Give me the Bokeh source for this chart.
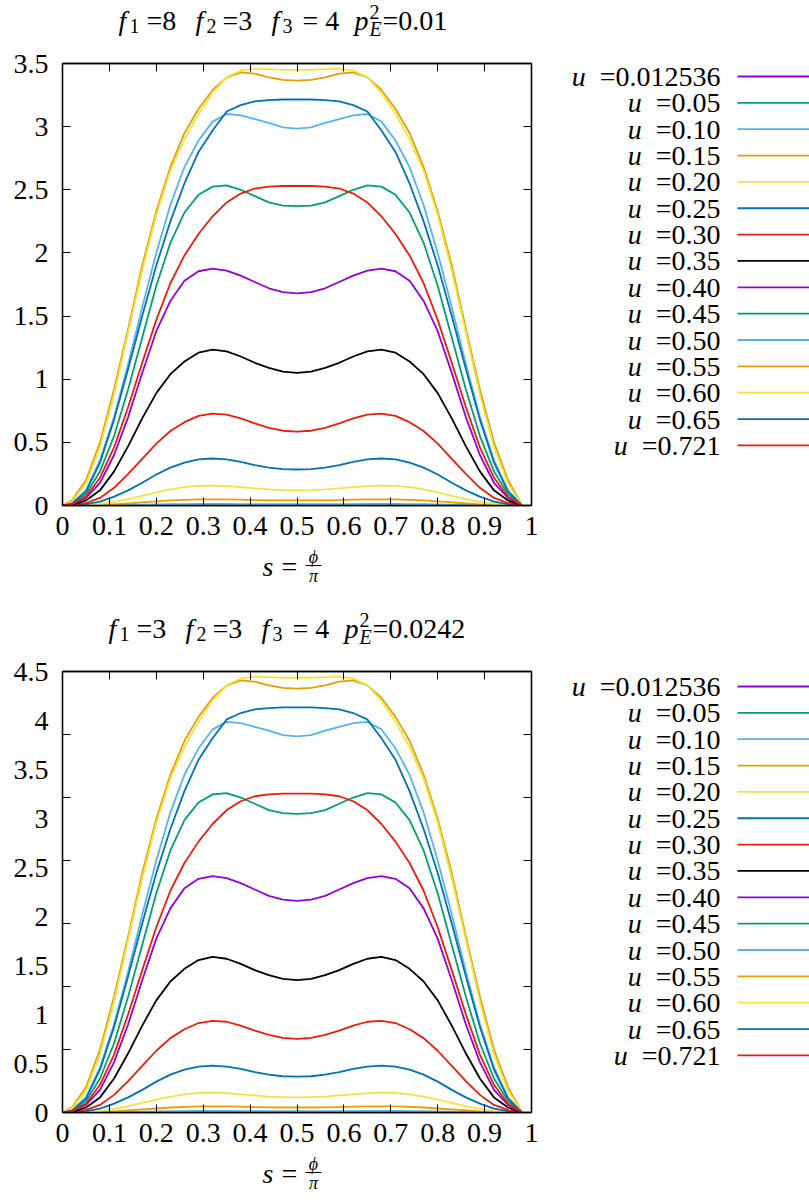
from bokeh.plotting import figure
from bokeh.layouts import gridplot
from bokeh.models import (Range1d, FixedTicker, PrintfTickFormatter, LinearAxis,
                          CustomJSTickFormatter)
from bokeh.core.properties import value
from bokeh.embed import file_html
from bokeh.resources import INLINE

# ---------------- data ----------------
S = [0.0, 0.02, 0.05, 0.08, 0.11, 0.14, 0.17, 0.20, 0.23, 0.26, 0.29, 0.32, 0.35, 0.38,
     0.41, 0.44, 0.47, 0.50, 0.53, 0.56, 0.59, 0.62, 0.65, 0.68, 0.71, 0.74, 0.77, 0.80,
     0.83, 0.86, 0.89, 0.92, 0.95, 0.98]

U_LABELS = ["0.012536", "0.05", "0.10", "0.15", "0.20", "0.25", "0.30", "0.35",
            "0.40", "0.45", "0.50", "0.55", "0.60", "0.65", "0.721"]

X_TICKS = [0, 0.1, 0.2, 0.3, 0.4, 0.5, 0.6, 0.7, 0.8, 0.9, 1]
Y_TICKS_TOP = [0, 0.5, 1, 1.5, 2, 2.5, 3, 3.5]
Y_LABELS_BOT = [0, 0.5, 1, 1.5, 2, 2.5, 3, 3.5, 4, 4.5]
Y_MARKS_BOT = [0.643, 1.286, 1.929, 2.571, 3.214, 3.857]

# top panel  (f1=8, pE^2=0.01)
TOP_U0125 = [0, 0, 0.0001, 0.0003, 0.0006, 0.0009, 0.0012, 0.0015, 0.0017, 0.0019, 0.002, 0.002, 0.002, 0.0019, 0.0018, 0.0017, 0.0017, 0.0017,
             0.0017, 0.0017, 0.0018, 0.0019, 0.002, 0.002, 0.002, 0.0019, 0.0017, 0.0015, 0.0012, 0.0009, 0.0006, 0.0003, 0.0001, 0]
TOP_U05 = [0, 0, 0.0002, 0.0005, 0.001, 0.0017, 0.0024, 0.003, 0.0036, 0.004, 0.0042, 0.0043, 0.0042, 0.004, 0.0038, 0.0036, 0.0035, 0.0035,
           0.0035, 0.0036, 0.0038, 0.004, 0.0042, 0.0043, 0.0042, 0.004, 0.0036, 0.003, 0.0024, 0.0017, 0.001, 0.0005, 0.0002, 0]
TOP_U10 = [0, 0, 0.0005, 0.0012, 0.0025, 0.004, 0.006, 0.008, 0.0098, 0.011, 0.0118, 0.012, 0.0118, 0.0113, 0.0107, 0.0102, 0.0099, 0.0098,
           0.0099, 0.0102, 0.0107, 0.0113, 0.0118, 0.012, 0.0118, 0.011, 0.0098, 0.008, 0.006, 0.004, 0.0025, 0.0012, 0.0005, 0]
TOP_U15 = [0, 0, 0.001, 0.004, 0.009, 0.016, 0.024, 0.032, 0.04, 0.045, 0.048, 0.049, 0.048, 0.046, 0.043, 0.041, 0.04, 0.04,
           0.04, 0.041, 0.043, 0.046, 0.048, 0.049, 0.048, 0.045, 0.04, 0.032, 0.024, 0.016, 0.009, 0.004, 0.001, 0]
TOP_U20 = [0, 0.0005, 0.004, 0.012, 0.028, 0.05, 0.077, 0.103, 0.127, 0.145, 0.156, 0.158, 0.154, 0.145, 0.135, 0.127, 0.122, 0.12,
           0.122, 0.127, 0.135, 0.145, 0.154, 0.158, 0.156, 0.145, 0.127, 0.103, 0.077, 0.05, 0.028, 0.012, 0.004, 0]
TOP_U25 = [0, 0.001, 0.01, 0.03, 0.07, 0.12, 0.18, 0.245, 0.30, 0.34, 0.365, 0.372, 0.365, 0.345, 0.32, 0.30, 0.288, 0.285,
           0.288, 0.30, 0.32, 0.345, 0.365, 0.372, 0.365, 0.34, 0.30, 0.245, 0.18, 0.12, 0.07, 0.03, 0.01, 0]
TOP_U30 = [0, 0.003, 0.02, 0.06, 0.14, 0.25, 0.37, 0.49, 0.59, 0.66, 0.71, 0.727, 0.72, 0.69, 0.65, 0.615, 0.592, 0.585,
           0.592, 0.615, 0.65, 0.69, 0.72, 0.727, 0.71, 0.66, 0.59, 0.49, 0.37, 0.25, 0.14, 0.06, 0.02, 0]
TOP_U35 = [0, 0.005, 0.04, 0.12, 0.27, 0.47, 0.69, 0.89, 1.04, 1.14, 1.21, 1.235, 1.22, 1.18, 1.13, 1.09, 1.06, 1.05,
           1.06, 1.09, 1.13, 1.18, 1.22, 1.235, 1.21, 1.14, 1.04, 0.89, 0.69, 0.47, 0.27, 0.12, 0.04, 0]
TOP_U40 = [0, 0.01, 0.06, 0.18, 0.40, 0.70, 1.05, 1.38, 1.62, 1.78, 1.855, 1.875, 1.86, 1.82, 1.77, 1.72, 1.69, 1.68,
           1.69, 1.72, 1.77, 1.82, 1.86, 1.875, 1.855, 1.78, 1.62, 1.38, 1.05, 0.70, 0.40, 0.18, 0.06, 0]
TOP_U45 = [0, 0.01, 0.09, 0.27, 0.55, 0.92, 1.33, 1.74, 2.08, 2.32, 2.46, 2.525, 2.535, 2.50, 2.45, 2.40, 2.375, 2.37,
           2.375, 2.40, 2.45, 2.50, 2.535, 2.525, 2.46, 2.32, 2.08, 1.74, 1.33, 0.92, 0.55, 0.27, 0.09, 0]
TOP_U50 = [0, 0.02, 0.12, 0.36, 0.70, 1.12, 1.57, 2.00, 2.38, 2.68, 2.89, 3.04, 3.10, 3.09, 3.06, 3.03, 2.995, 2.985,
           2.995, 3.03, 3.06, 3.09, 3.10, 3.04, 2.89, 2.68, 2.38, 2.00, 1.57, 1.12, 0.70, 0.36, 0.12, 0]
TOP_U55 = [0, 0.04, 0.20, 0.50, 0.92, 1.40, 1.90, 2.33, 2.68, 2.95, 3.14, 3.29, 3.39, 3.43, 3.42, 3.39, 3.37, 3.365,
           3.37, 3.39, 3.42, 3.43, 3.39, 3.29, 3.14, 2.95, 2.68, 2.33, 1.90, 1.40, 0.92, 0.50, 0.20, 0]
TOP_U60 = [0, 0.03, 0.17, 0.46, 0.88, 1.37, 1.86, 2.30, 2.65, 2.90, 3.10, 3.27, 3.39, 3.445, 3.46, 3.455, 3.45, 3.45,
           3.45, 3.455, 3.46, 3.445, 3.39, 3.27, 3.10, 2.90, 2.65, 2.30, 1.86, 1.37, 0.88, 0.46, 0.17, 0]
TOP_U65 = [0, 0.015, 0.11, 0.34, 0.68, 1.08, 1.50, 1.90, 2.25, 2.55, 2.80, 2.97, 3.12, 3.17, 3.20, 3.21, 3.215, 3.215,
           3.215, 3.21, 3.20, 3.17, 3.12, 2.97, 2.80, 2.55, 2.25, 1.90, 1.50, 1.08, 0.68, 0.34, 0.11, 0]
TOP_U721 = [0, 0.01, 0.07, 0.22, 0.46, 0.78, 1.13, 1.47, 1.76, 1.98, 2.15, 2.29, 2.40, 2.47, 2.51, 2.525, 2.53, 2.53,
            2.53, 2.525, 2.51, 2.47, 2.40, 2.29, 2.15, 1.98, 1.76, 1.47, 1.13, 0.78, 0.46, 0.22, 0.07, 0]

# bottom panel  (f1=3, pE^2=0.0242)
BOT_U0125 = [0, 0, 0.0001, 0.0004, 0.0008, 0.0012, 0.0015, 0.0019, 0.0022, 0.0024, 0.0026, 0.0026, 0.0026, 0.0024, 0.0023, 0.0022, 0.0022, 0.0022,
             0.0022, 0.0022, 0.0023, 0.0024, 0.0026, 0.0026, 0.0026, 0.0024, 0.0022, 0.0019, 0.0015, 0.0012, 0.0008, 0.0004, 0.0001, 0]
BOT_U05 = [0, 0, 0.0003, 0.0006, 0.0013, 0.0022, 0.0031, 0.0039, 0.0046, 0.0051, 0.0054, 0.0055, 0.0054, 0.0051, 0.0049, 0.0046, 0.0045, 0.0045,
           0.0045, 0.0046, 0.0049, 0.0051, 0.0054, 0.0055, 0.0054, 0.0051, 0.0046, 0.0039, 0.0031, 0.0022, 0.0013, 0.0006, 0.0003, 0]
BOT_U10 = [0, 0, 0.0006, 0.0015, 0.0032, 0.0051, 0.0077, 0.0103, 0.0126, 0.0141, 0.0152, 0.0154, 0.0152, 0.0145, 0.0138, 0.0131, 0.0127, 0.0126,
           0.0127, 0.0131, 0.0138, 0.0145, 0.0152, 0.0154, 0.0152, 0.0141, 0.0126, 0.0103, 0.0077, 0.0051, 0.0032, 0.0015, 0.0006, 0]
BOT_U15 = [0, 0, 0.001, 0.005, 0.012, 0.021, 0.031, 0.041, 0.051, 0.058, 0.062, 0.063, 0.062, 0.059, 0.055, 0.053, 0.051, 0.051,
           0.051, 0.053, 0.055, 0.059, 0.062, 0.063, 0.062, 0.058, 0.051, 0.041, 0.031, 0.021, 0.012, 0.005, 0.001, 0]
BOT_U20 = [0, 0.001, 0.005, 0.015, 0.036, 0.064, 0.099, 0.132, 0.163, 0.186, 0.201, 0.203, 0.198, 0.186, 0.174, 0.163, 0.157, 0.154,
           0.157, 0.163, 0.174, 0.186, 0.198, 0.203, 0.201, 0.186, 0.163, 0.132, 0.099, 0.064, 0.036, 0.015, 0.005, 0]
BOT_U25 = [0, 0.001, 0.013, 0.039, 0.09, 0.154, 0.231, 0.315, 0.386, 0.437, 0.469, 0.478, 0.469, 0.444, 0.411, 0.386, 0.370, 0.366,
           0.370, 0.386, 0.411, 0.444, 0.469, 0.478, 0.469, 0.437, 0.386, 0.315, 0.231, 0.154, 0.09, 0.039, 0.013, 0]
BOT_U30 = [0, 0.004, 0.026, 0.077, 0.18, 0.321, 0.476, 0.63, 0.759, 0.849, 0.913, 0.935, 0.926, 0.887, 0.836, 0.791, 0.761, 0.752,
           0.761, 0.791, 0.836, 0.887, 0.926, 0.935, 0.913, 0.849, 0.759, 0.63, 0.476, 0.321, 0.18, 0.077, 0.026, 0]
BOT_U35 = [0, 0.006, 0.051, 0.154, 0.347, 0.604, 0.887, 1.144, 1.337, 1.466, 1.556, 1.588, 1.569, 1.517, 1.453, 1.401, 1.363, 1.35,
           1.363, 1.401, 1.453, 1.517, 1.569, 1.588, 1.556, 1.466, 1.337, 1.144, 0.887, 0.604, 0.347, 0.154, 0.051, 0]
BOT_U40 = [0, 0.013, 0.077, 0.231, 0.514, 0.90, 1.35, 1.774, 2.083, 2.289, 2.385, 2.411, 2.391, 2.34, 2.276, 2.211, 2.173, 2.16,
           2.173, 2.211, 2.276, 2.34, 2.391, 2.411, 2.385, 2.289, 2.083, 1.774, 1.35, 0.90, 0.514, 0.231, 0.077, 0]
BOT_U45 = [0, 0.013, 0.116, 0.347, 0.707, 1.183, 1.71, 2.237, 2.674, 2.983, 3.163, 3.246, 3.259, 3.214, 3.15, 3.086, 3.054, 3.047,
           3.054, 3.086, 3.15, 3.214, 3.259, 3.246, 3.163, 2.983, 2.674, 2.237, 1.71, 1.183, 0.707, 0.347, 0.116, 0]
BOT_U50 = [0, 0.026, 0.154, 0.463, 0.90, 1.44, 2.019, 2.571, 3.06, 3.446, 3.716, 3.909, 3.986, 3.973, 3.934, 3.896, 3.851, 3.838,
           3.851, 3.896, 3.934, 3.973, 3.986, 3.909, 3.716, 3.446, 3.06, 2.571, 2.019, 1.44, 0.90, 0.463, 0.154, 0]
BOT_U55 = [0, 0.051, 0.257, 0.643, 1.183, 1.80, 2.443, 2.996, 3.446, 3.793, 4.037, 4.23, 4.359, 4.41, 4.397, 4.359, 4.333, 4.326,
           4.333, 4.359, 4.397, 4.41, 4.359, 4.23, 4.037, 3.793, 3.446, 2.996, 2.443, 1.80, 1.183, 0.643, 0.257, 0]
BOT_U60 = [0, 0.039, 0.219, 0.591, 1.131, 1.761, 2.391, 2.957, 3.407, 3.729, 3.986, 4.204, 4.359, 4.429, 4.449, 4.442, 4.436, 4.436,
           4.436, 4.442, 4.449, 4.429, 4.359, 4.204, 3.986, 3.729, 3.407, 2.957, 2.391, 1.761, 1.131, 0.591, 0.219, 0]
BOT_U65 = [0, 0.019, 0.141, 0.437, 0.874, 1.389, 1.929, 2.443, 2.893, 3.279, 3.60, 3.819, 4.011, 4.076, 4.114, 4.127, 4.134, 4.134,
           4.134, 4.127, 4.114, 4.076, 4.011, 3.819, 3.60, 3.279, 2.893, 2.443, 1.929, 1.389, 0.874, 0.437, 0.141, 0]
BOT_U721 = [0, 0.013, 0.09, 0.283, 0.591, 1.003, 1.453, 1.89, 2.263, 2.546, 2.764, 2.944, 3.086, 3.176, 3.227, 3.246, 3.253, 3.253,
            3.253, 3.246, 3.227, 3.176, 3.086, 2.944, 2.764, 2.546, 2.263, 1.89, 1.453, 1.003, 0.591, 0.283, 0.09, 0]

TOP_SERIES = [TOP_U0125, TOP_U05, TOP_U10, TOP_U15, TOP_U20, TOP_U25, TOP_U30, TOP_U35,
              TOP_U40, TOP_U45, TOP_U50, TOP_U55, TOP_U60, TOP_U65, TOP_U721]
BOT_SERIES = [BOT_U0125, BOT_U05, BOT_U10, BOT_U15, BOT_U20, BOT_U25, BOT_U30, BOT_U35,
              BOT_U40, BOT_U45, BOT_U50, BOT_U55, BOT_U60, BOT_U65, BOT_U721]

TOP_TITLE_TEXT = ["f", "1", "=8", "f", "2", "=3", "f", "3", "= 4", "p", "2", "E", "=0.01"]
BOT_TITLE_TEXT = ["f", "1", "=3", "f", "2", "=3", "f", "3", "= 4", "p", "2", "E", "=0.0242"]

# ---------------- styling / layout ----------------
FONT = "Liberation Serif"
FS = "28px"
COLORS = ["#9400d3", "#009e73", "#56b4e9", "#e69f00", "#f0e442", "#0072b2", "#e51e10", "#000000"]
PAGE_W = 809
W_MAIN = 541
FRAME_L, FRAME_R = 62, 531
BELOW = 41          # space under the frame for the x tick labels
TITLE_STYLE = ["italic", "normal", "normal", "italic", "normal", "normal", "italic", "normal",
               "normal", "italic", "normal", "italic", "normal"]
TITLE_SIZE = [28, 20, 28, 28, 20, 28, 28, 20, 28, 28, 20, 20, 28]
TITLE_DX = [0, 11, 28, 77, 88, 104, 153, 164, 184, 236, 251, 251, 264]
TITLE_DY = [0, 5, 0, 0, 5, 0, 0, 5, 0, 0, -9, 8, 0]


def bare(width, height, x_range, y_range, left, right, top, bottom):
    f = figure(width=width, height=height, x_range=x_range, y_range=y_range, title=None,
               output_backend="svg", toolbar_location=None,
               x_axis_location=None, y_axis_location=None,
               min_border_left=left, min_border_right=right,
               min_border_top=top, min_border_bottom=bottom)
    f.grid.visible = False
    f.outline_line_color = None
    return f


def style_axis(ax, labels=True):
    ax.axis_line_color = "black"
    ax.axis_line_width = 1.3
    ax.major_tick_line_color = "black"
    ax.major_tick_line_width = 1
    ax.major_tick_in = 8
    ax.major_tick_out = 0
    ax.minor_tick_line_color = None
    ax.major_label_text_font = FONT
    ax.major_label_text_color = "black"
    if labels:
        ax.major_label_text_font_size = FS
    else:
        ax.major_label_text_font_size = "0px"
        ax.major_label_standoff = 0


def make_panel(series, ymax, label_ticks, mark_ticks, page_top, page_bot, frame_h,
               title_text, title_x0, legend_row0):
    t_bot = page_top + 48
    frame_top = page_top + 63
    frame_bot = frame_top + frame_h
    m_bot = frame_bot + BELOW

    # title strip (coordinates = page pixels, y = vertical centre of each piece)
    tf = bare(W_MAIN, t_bot - page_top, Range1d(FRAME_L, FRAME_R), Range1d(t_bot, page_top),
              FRAME_L, W_MAIN - FRAME_R, 0, 0)
    mid = page_top + 20
    tf.text(x=[title_x0 + d for d in TITLE_DX], y=[mid + d for d in TITLE_DY], text=title_text,
            text_font=value(FONT), text_font_size=[f"{s}px" for s in TITLE_SIZE],
            text_font_style=TITLE_STYLE, text_align="left", text_baseline="middle",
            text_color="black")

    # main plot
    p = figure(width=W_MAIN, height=m_bot - t_bot, x_range=Range1d(0, 1), y_range=Range1d(0, ymax),
               title=None, output_backend="svg", toolbar_location=None,
               x_axis_location=None, y_axis_location=None,
               min_border_left=FRAME_L, min_border_right=W_MAIN - FRAME_R,
               min_border_top=frame_top - t_bot, min_border_bottom=BELOW)
    p.grid.visible = False
    p.outline_line_color = "black"
    p.outline_line_width = 1.3

    xb = LinearAxis(ticker=FixedTicker(ticks=X_TICKS), formatter=PrintfTickFormatter(format="%g"))
    style_axis(xb)
    xb.major_label_standoff = 11
    p.add_layout(xb, "below")
    xt = LinearAxis(ticker=FixedTicker(ticks=X_TICKS), formatter=CustomJSTickFormatter(code="return ''"))
    style_axis(xt, labels=False)
    p.add_layout(xt, "above")

    if mark_ticks is None:
        yl = LinearAxis(ticker=FixedTicker(ticks=label_ticks), formatter=PrintfTickFormatter(format="%g"))
        style_axis(yl)
        yl.major_label_standoff = 14
        p.add_layout(yl, "left")
        right_ticks = label_ticks
    else:
        ym = LinearAxis(ticker=FixedTicker(ticks=mark_ticks), formatter=CustomJSTickFormatter(code="return ''"))
        style_axis(ym, labels=False)
        p.add_layout(ym, "left")
        yl = LinearAxis(ticker=FixedTicker(ticks=label_ticks), formatter=PrintfTickFormatter(format="%g"))
        style_axis(yl)
        yl.axis_line_color = None
        yl.major_tick_in = 0
        yl.major_tick_out = 0
        yl.major_label_standoff = 14
        p.add_layout(yl, "left")
        right_ticks = mark_ticks
    yr = LinearAxis(ticker=FixedTicker(ticks=right_ticks), formatter=CustomJSTickFormatter(code="return ''"))
    style_axis(yr, labels=False)
    p.add_layout(yr, "right")

    for i, ys in enumerate(series):
        p.line(S, ys, line_color=COLORS[i % 8], line_width=1.8, line_join="round")

    # strip under the plot: the x-axis title  s = phi / pi  (coordinates = page pixels)
    xf = bare(W_MAIN, page_bot - m_bot, Range1d(FRAME_L, FRAME_R), Range1d(page_bot, m_bot),
              FRAME_L, W_MAIN - FRAME_R, 0, 0)
    bar = frame_bot + 60
    xf.text(x=[262, 281], y=[bar + 1, bar + 1], text=["s", "="], text_font=value(FONT),
            text_font_size=FS, text_font_style=["italic", "normal"], text_align="left",
            text_baseline="middle", text_color="black")
    xf.text(x=[313, 313], y=[bar - 9, bar + 10], text=["\u03d5", "\u03c0"],
            text_font=value(FONT), text_font_size="18px", text_font_style="italic",
            text_align="center", text_baseline="middle", text_color="black")
    xf.segment(x0=[305], y0=[bar], x1=[321], y1=[bar], line_color="black", line_width=1)

    # legend (coordinates = page pixels, frame aligned with the main frame)
    lg = bare(PAGE_W - W_MAIN, m_bot - t_bot, Range1d(W_MAIN, PAGE_W), Range1d(frame_bot, frame_top),
              0, 0, frame_top - t_bot, BELOW)
    n = len(U_LABELS)
    ys = [legend_row0 + 26.35 * i for i in range(n)]
    lg.segment(x0=[737] * n, y0=ys, x1=[PAGE_W] * n, y1=ys,
               line_color=[COLORS[i % 8] for i in range(n)], line_width=1.8)
    nums = ["=" + u for u in U_LABELS]
    lg.text(x=[720] * n, y=ys, text=nums, text_align="right", text_baseline="middle",
            text_font=value(FONT), text_font_size=FS, text_color="black")

    def tw(s):
        m = {"=": 0.564, ".": 0.25}
        return sum(m.get(c, 0.5) for c in s) * 28

    lg.text(x=[720 - tw(t) - 14 for t in nums], y=ys, text=["u"] * n, text_align="right",
            text_baseline="middle", text_font=value(FONT), text_font_size=FS,
            text_font_style="italic", text_color="black")
    return [[tf, None], [p, lg], [xf, None]]


rows = make_panel(TOP_SERIES, 3.5, Y_TICKS_TOP, None, 0, 608, 442, TOP_TITLE_TEXT, 118, 76)
rows += make_panel(BOT_SERIES, 4.5, Y_LABELS_BOT, Y_MARKS_BOT, 608, 1200, 441, BOT_TITLE_TEXT, 108, 686)
layout = gridplot(rows, toolbar_location=None)

open("out.html", "w").write(file_html(layout, INLINE))
